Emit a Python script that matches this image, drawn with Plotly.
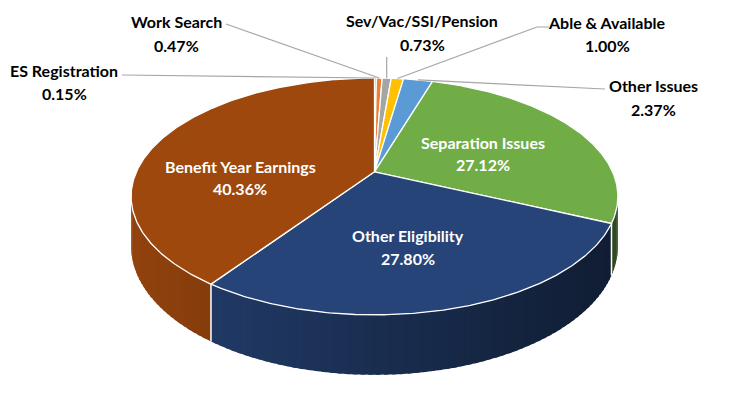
import numpy as np
import plotly.graph_objects as go

# ---------------- data ----------------
categories = ["ES Registration", "Work Search", "Sev/Vac/SSI/Pension", "Able & Available",
              "Other Issues", "Separation Issues", "Other Eligibility", "Benefit Year Earnings"]
values = [0.15, 0.47, 0.73, 1.00, 2.37, 27.12, 27.80, 40.36]
colors = ["#4472C4", "#ED7D31", "#A5A5A5", "#FFC000", "#5B9BD5", "#70AD47", "#264478", "#9E480E"]

# ---------------- styling / layout helpers ----------------
W, Hgt = 750, 397
OFF = 8  # page body margin
CX, CY, A, B, K, DEPTH = 374.5, 171.8, 238.1, 113.3, 0.208, 47.5
FONT = "Lato"

# label placement (name line, pct line), colour, and leader anchor
label_pos = {
    "ES Registration": (64, 70, 93, "black", [(122, 75)]),
    "Work Search": (176, 21, 45, "black", [(226, 24)]),
    "Sev/Vac/SSI/Pension": (422, 20, 44, "black", "vertical57"),
    "Able & Available": (607, 22, 45, "black", [(549, 27), (537, 27)]),
    "Other Issues": (653, 85, 109, "black", [(605, 89)]),
    "Separation Issues": (483, 142, 164, "white", None),
    "Other Eligibility": (408, 235, 258, "white", None),
    "Benefit Year Earnings": (240, 166, 188, "white", None),
}


def proj(theta, r=1.0, drop=0.0):
    theta = np.asarray(theta, dtype=float)
    X = r * np.sin(theta)
    Z = -r * np.cos(theta)
    w = 1 - K * Z
    return CX + A * X / w, CY + B * Z / w + drop / w


def shade(hexc, f):
    h = hexc.lstrip("#")
    rgb = [int(h[i:i + 2], 16) for i in (0, 2, 4)]
    return "rgb({},{},{})".format(*[int(round(c * f)) for c in rgb])


fig = go.Figure()
total = sum(values)
bounds = np.concatenate([[0], np.cumsum(values)]) / total * 2 * np.pi
th_R = np.arccos(-K)
th_L = 2 * np.pi - th_R
ovl = np.radians(0.8)

# ---------------- side walls ----------------
for i in range(len(values)):
    a, b = max(bounds[i], th_R), min(bounds[i + 1], th_L)
    if b <= a:
        continue
    n = max(1, int(np.ceil((b - a) / np.radians(1.5))))
    edges = np.linspace(a, b, n + 1)
    for j in range(n):
        t = np.linspace(edges[j], min(edges[j + 1] + ovl, b), 5)
        xt, yt = proj(t)
        xb, yb = proj(t[::-1], drop=DEPTH)
        xm, _ = proj((edges[j] + edges[j + 1]) / 2)
        f = float(np.clip(0.92 - 0.5 * (xm - 132) / 485, 0.4, 1.0))
        c = shade(colors[i], f)
        fig.add_trace(go.Scatter(
            x=np.r_[xt, xb, xt[0]], y=np.r_[yt, yb, yt[0]],
            mode="lines", fill="toself", fillcolor=c,
            line=dict(color=c, width=0), hoverinfo="skip", showlegend=False))

# white vertical edges on the side at slice boundaries
for bnd in bounds[1:-1]:
    if th_R < bnd < th_L:
        x0, y0 = proj(bnd)
        x1, y1 = proj(bnd, drop=DEPTH)
        fig.add_trace(go.Scatter(x=[float(x0), float(x1)], y=[float(y0), float(y1)], mode="lines",
                                 line=dict(color="white", width=1.5),
                                 hoverinfo="skip", showlegend=False))

# ---------------- top faces ----------------
for i in range(len(values)):
    n = max(3, int(np.ceil((bounds[i + 1] - bounds[i]) / np.radians(0.5))))
    t = np.linspace(bounds[i], bounds[i + 1], n)
    xa, ya = proj(t)
    fig.add_trace(go.Scatter(
        x=np.r_[CX, xa, CX], y=np.r_[CY, ya, CY],
        mode="lines", fill="toself", fillcolor=colors[i],
        line=dict(color="white", width=1.3), hoverinfo="skip",
        name=categories[i], showlegend=False))

# ---------------- leader lines ----------------
for i, cat in enumerate(categories):
    lx, y1, y2, col, anchor = label_pos[cat]
    if anchor is None:
        continue
    mid = (bounds[i] + bounds[i + 1]) / 2
    sx, sy = proj(mid)
    sx, sy = float(sx), float(sy)
    if anchor == "vertical57":
        pts = [(sx, 57), (sx, sy)]
    else:
        pts = list(anchor) + [(sx, sy)]
    fig.add_trace(go.Scatter(x=[p[0] for p in pts], y=[p[1] for p in pts], mode="lines",
                             line=dict(color="#A6A6A6", width=1.2),
                             hoverinfo="skip", showlegend=False))

# ---------------- labels ----------------
annotations = []
for i, cat in enumerate(categories):
    lx, y1, y2, col, _ = label_pos[cat]
    for txt, yy in ((cat, y1), (f"{values[i]:.2f}%", y2)):
        annotations.append(dict(
            x=lx, y=yy, xref="x", yref="y", text=f"<b>{txt}</b>", showarrow=False,
            xanchor="center", yanchor="middle",
            font=dict(family=FONT, size=16, color=col)))

fig.update_layout(
    width=W, height=Hgt, margin=dict(l=0, r=0, t=0, b=0),
    paper_bgcolor="white", plot_bgcolor="white",
    xaxis=dict(range=[OFF, W + OFF], visible=False, fixedrange=True),
    yaxis=dict(range=[Hgt + OFF, OFF], visible=False, fixedrange=True),
    annotations=annotations, showlegend=False,
)

fig.write_html("out.html")
